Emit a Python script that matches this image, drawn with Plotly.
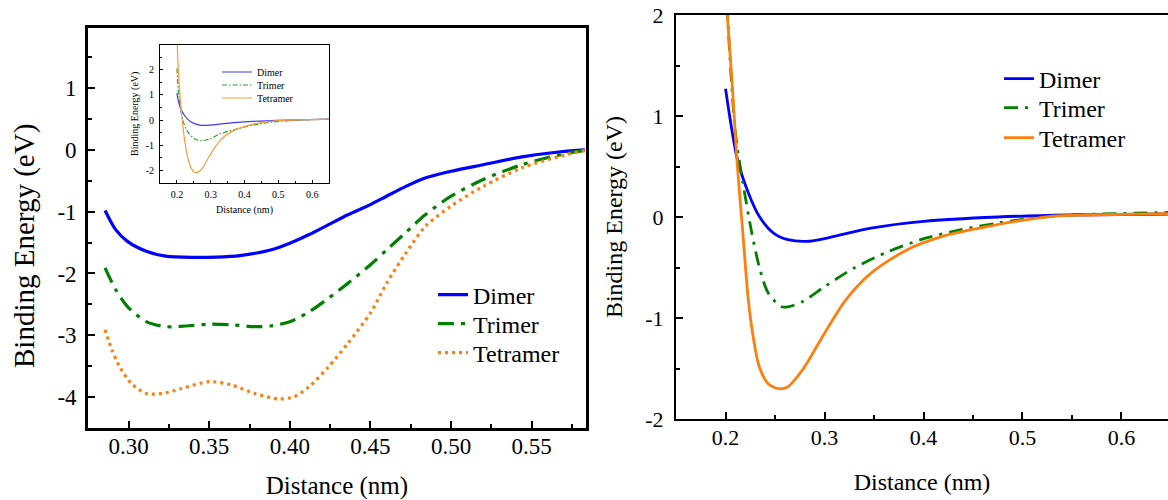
import plotly.graph_objects as go

# ---------------- Left panel (zoomed region) ----------------
left_x_dimer = [0.2854, 0.292, 0.2993, 0.311, 0.323, 0.340, 0.3545, 0.369, 0.388, 0.400, 0.412, 0.424,
                0.436, 0.450, 0.460, 0.472, 0.484, 0.500, 0.520, 0.544, 0.568, 0.583]
left_y_dimer = [-0.98, -1.29, -1.48, -1.64, -1.72, -1.74, -1.735, -1.71, -1.62, -1.51, -1.37, -1.21,
                -1.05, -0.886, -0.75, -0.59, -0.454, -0.346, -0.24, -0.114, -0.03, 0.0]

left_x_trimer = [0.2854, 0.292, 0.2993, 0.311, 0.323, 0.335, 0.350, 0.364, 0.378, 0.388, 0.400, 0.412,
                 0.424, 0.436, 0.450, 0.460, 0.472, 0.484, 0.500, 0.520, 0.544, 0.568, 0.583]
left_y_trimer = [-1.91, -2.26, -2.535, -2.78, -2.86, -2.85, -2.82, -2.83, -2.86, -2.85, -2.78, -2.62,
                 -2.40, -2.16, -1.86, -1.62, -1.335, -1.05, -0.75, -0.48, -0.24, -0.076, -0.01]

left_x_tetramer = [0.2854, 0.2897, 0.2945, 0.3017, 0.311, 0.321, 0.333, 0.350, 0.364, 0.378, 0.393, 0.4025,
                   0.412, 0.424, 0.436, 0.450, 0.460, 0.472, 0.484, 0.500, 0.520, 0.544, 0.568, 0.583]
left_y_tetramer = [-2.91, -3.24, -3.51, -3.78, -3.94, -3.94, -3.86, -3.75, -3.805, -3.94, -4.03, -3.995,
                   -3.83, -3.51, -3.13, -2.64, -2.16, -1.67, -1.24, -0.91, -0.59, -0.29, -0.10, -0.01]

# ---------------- Inset (full range, first data set) ----------------
in_x_dimer = [0.200, 0.208, 0.223, 0.243, 0.2675, 0.297, 0.347, 0.426, 0.526, 0.652]
in_y_dimer = [1.07, 0.57, 0.17, -0.09, -0.20, -0.20, -0.13, -0.05, 0.0, 0.04]

in_x_trimer = [0.200, 0.206, 0.218, 0.233, 0.2526, 0.2725, 0.297, 0.327, 0.377, 0.426, 0.476, 0.526, 0.652]
in_y_trimer = [2.05, 0.90, -0.03, -0.49, -0.75, -0.82, -0.75, -0.55, -0.355, -0.20, -0.09, -0.03, 0.04]

in_x_tetramer = [0.200, 0.206, 0.213, 0.223, 0.233, 0.243, 0.2526, 0.2625, 0.2774, 0.297, 0.327, 0.367,
                 0.426, 0.476, 0.526, 0.652]
in_y_tetramer = [3.30, 1.55, 0.37, -0.82, -1.54, -1.93, -2.08, -2.07, -1.87, -1.41, -0.82, -0.42,
                 -0.16, -0.05, 0.0, 0.04]

# ---------------- Right panel ----------------
r_x_dimer = [0.200, 0.212, 0.223, 0.234, 0.2485, 0.263, 0.285, 0.311, 0.347, 0.400, 0.475, 0.548, 0.650]
r_y_dimer = [1.27, 0.57, 0.24, 0.007, -0.16, -0.225, -0.24, -0.19, -0.11, -0.043, 0.0, 0.02, 0.03]

r_x_trimer = [0.200, 0.202, 0.210, 0.2175, 0.2266, 0.234, 0.243, 0.256, 0.263, 0.278, 0.300, 0.329, 0.365,
              0.402, 0.438, 0.475, 0.511, 0.548, 0.650]
r_y_trimer = [2.40, 2.0, 0.83, 0.34, -0.16, -0.49, -0.75, -0.886, -0.89, -0.836, -0.69, -0.51, -0.34,
              -0.21, -0.125, -0.06, -0.01, 0.02, 0.045]

r_x_tetramer = [0.200, 0.2066, 0.212, 0.2175, 0.223, 0.2285, 0.234, 0.243, 0.254, 0.263, 0.278, 0.300,
                0.3215, 0.347, 0.3836, 0.420, 0.4566, 0.493, 0.530, 0.566, 0.650]
r_y_tetramer = [2.25, 1.33, 0.50, -0.16, -0.82, -1.22, -1.48, -1.65, -1.70, -1.68, -1.51, -1.15,
                -0.82, -0.555, -0.324, -0.19, -0.11, -0.043, 0.007, 0.02, 0.033]

names = ["Dimer", "Trimer", "Tetramer"]

FONT = "Liberation Serif, Times New Roman, serif"
BLUE, GREEN, ORANGE = "#0000ff", "#008000", "#ff7f0e"
IBLUE, IGREEN, IORANGE = "#3a3aff", "#2ea02e", "#ff9a3c"

fig = go.Figure()

# left panel traces (each legend entry in its own legend box so spacing matches)
fig.add_trace(go.Scatter(x=left_x_dimer, y=left_y_dimer, name=names[0], mode="lines",
                         line=dict(color=BLUE, width=3.2, shape="spline", smoothing=0.8),
                         xaxis="x", yaxis="y", legend="legend"))
fig.add_trace(go.Scatter(x=left_x_trimer, y=left_y_trimer, name=names[1], mode="lines",
                         line=dict(color=GREEN, width=3.2, dash="16px,7px,4px,7px", shape="spline", smoothing=0.8),
                         xaxis="x", yaxis="y", legend="legend2"))
fig.add_trace(go.Scatter(x=left_x_tetramer, y=left_y_tetramer, name=names[2], mode="lines",
                         line=dict(color=ORANGE, width=3.2, dash="3px,4px", shape="spline", smoothing=0.8),
                         xaxis="x", yaxis="y", legend="legend3"))

# right panel traces
fig.add_trace(go.Scatter(x=r_x_dimer, y=r_y_dimer, name=names[0], mode="lines",
                         line=dict(color=BLUE, width=2.8, shape="spline", smoothing=0.8),
                         xaxis="x2", yaxis="y2", legend="legend4"))
fig.add_trace(go.Scatter(x=r_x_trimer, y=r_y_trimer, name=names[1], mode="lines",
                         line=dict(color=GREEN, width=2.8, dash="14px,7px,3px,7px", shape="spline", smoothing=0.8),
                         xaxis="x2", yaxis="y2", legend="legend5"))
fig.add_trace(go.Scatter(x=r_x_tetramer, y=r_y_tetramer, name=names[2], mode="lines",
                         line=dict(color=ORANGE, width=2.8, shape="spline", smoothing=0.8),
                         xaxis="x2", yaxis="y2", legend="legend6"))

# inset traces
fig.add_trace(go.Scatter(x=in_x_dimer, y=in_y_dimer, name=names[0], mode="lines",
                         line=dict(color=IBLUE, width=1.2, shape="spline", smoothing=0.8),
                         xaxis="x3", yaxis="y3", legend="legend7"))
fig.add_trace(go.Scatter(x=in_x_trimer, y=in_y_trimer, name=names[1], mode="lines",
                         line=dict(color=IGREEN, width=1.2, dash="5px,2px,1.5px,2px", shape="spline", smoothing=0.8),
                         xaxis="x3", yaxis="y3", legend="legend8"))
fig.add_trace(go.Scatter(x=in_x_tetramer, y=in_y_tetramer, name=names[2], mode="lines",
                         line=dict(color=IORANGE, width=1.2, shape="spline", smoothing=0.8),
                         xaxis="x3", yaxis="y3", legend="legend9"))

axis_common = dict(showgrid=False, zeroline=False, showline=True, linecolor="black",
                   ticks="inside", tickcolor="black", color="black", automargin=False)

tick_font_l = dict(family=FONT, size=23, color="black")
tick_font_r = dict(family=FONT, size=22, color="black")
title_font_r = dict(family=FONT, size=24, color="black")
title_font_l = dict(family=FONT, size=25, color="black")
inset_font = dict(family=FONT, size=10, color="black")


def leg(xpx, ypx, size):
    return dict(x=xpx / 1168, y=1 - ypx / 500, xanchor="left", yanchor="middle",
                bgcolor="rgba(0,0,0,0)", font=dict(family=FONT, size=size, color="black"),
                itemwidth=30, borderwidth=0)


fig.update_layout(
    template="none",
    width=1168, height=500,
    margin=dict(l=0, r=0, t=0, b=0, autoexpand=False),
    paper_bgcolor="white", plot_bgcolor="white",
    font=dict(family=FONT, color="black", size=22),
    showlegend=True,
    xaxis=dict(**axis_common, domain=[0.0753, 0.5017], range=[0.2748, 0.5837], anchor="y",
               linewidth=2.5, mirror=True, tickvals=[0.30, 0.35, 0.40, 0.45, 0.50, 0.55],
               ticktext=["0.30", "0.35", "0.40", "0.45", "0.50", "0.55"], ticklen=7, tickwidth=2,
               minor=dict(ticks="inside", tickvals=[0.325, 0.375, 0.425, 0.475, 0.525, 0.575],
                          ticklen=4, tickwidth=1.5, tickcolor="black"),
               tickfont=tick_font_l, ticklabelstandoff=-4,
               title=dict(text="Distance (nm)", font=title_font_l, standoff=21)),
    yaxis=dict(**axis_common, domain=[0.144, 0.945], range=[-4.5, 1.98], anchor="x",
               linewidth=2.5, mirror=True, tickvals=[1, 0, -1, -2, -3, -4],
               ticktext=["1", "0", "-1", "-2", "-3", "-4"], ticklen=7, tickwidth=2,
               minor=dict(ticks="inside", tickvals=[1.5, 0.5, -0.5, -1.5, -2.5, -3.5, -4.5],
                          ticklen=4, tickwidth=1.5, tickcolor="black"),
               tickfont=tick_font_l, ticklabelstandoff=4),
    xaxis2=dict(**axis_common, domain=[0.5788, 1.0], range=[0.15, 0.647], anchor="y2",
                linewidth=2.2, mirror=True, tickvals=[0.2, 0.3, 0.4, 0.5, 0.6],
                ticktext=["0.2", "0.3", "0.4", "0.5", "0.6"], ticklen=7, tickwidth=2,
                minor=dict(ticks="inside", tickvals=[0.25, 0.35, 0.45, 0.55],
                           ticklen=4, tickwidth=1.5, tickcolor="black"),
                tickfont=tick_font_r, ticklabelstandoff=-3,
                title=dict(text="Distance (nm)", font=title_font_r, standoff=25)),
    yaxis2=dict(**axis_common, domain=[0.162, 0.97], range=[-2, 2], anchor="x2",
                linewidth=2.2, mirror=False, tickvals=[2, 1, 0, -1, -2],
                ticktext=["2", "1", "0", "-1", "-2"], ticklen=7, tickwidth=2,
                minor=dict(ticks="inside", tickvals=[1.5, 0.5, -0.5, -1.5],
                           ticklen=4, tickwidth=1.5, tickcolor="black"),
                tickfont=tick_font_r, ticklabelstandoff=6,
                title=dict(text="Binding Energy (eV)", font=title_font_r, standoff=16)),
    xaxis3=dict(**axis_common, domain=[0.1370, 0.2817], range=[0.15, 0.65], anchor="y3",
                linewidth=1, mirror=True, tickvals=[0.2, 0.3, 0.4, 0.5, 0.6],
                ticktext=["0.2", "0.3", "0.4", "0.5", "0.6"], ticklen=3, tickwidth=1,
                minor=dict(ticks="inside", tickvals=[0.25, 0.35, 0.45, 0.55],
                           ticklen=2, tickwidth=1, tickcolor="black"),
                tickfont=inset_font, ticklabelstandoff=2,
                title=dict(text="Distance (nm)", font=inset_font, standoff=6)),
    yaxis3=dict(**axis_common, domain=[0.634, 0.911], range=[-2.5, 3], anchor="x3",
                linewidth=1, mirror=True, tickvals=[2, 1, 0, -1, -2],
                ticktext=["2", "1", "0", "-1", "-2"], ticklen=3, tickwidth=1,
                minor=dict(ticks="inside", tickvals=[2.5, 1.5, 0.5, -0.5, -1.5],
                           ticklen=2, tickwidth=1, tickcolor="black"),
                tickfont=inset_font, ticklabelstandoff=3,
                title=dict(text="Binding Energy (eV)", font=inset_font, standoff=5)),
    legend=leg(433, 295, 24), legend2=leg(433, 324, 24), legend3=leg(433, 353, 24),
    legend4=leg(999, 79, 24), legend5=leg(999, 108, 24), legend6=leg(999, 138, 24),
    legend7=leg(217, 72, 10), legend8=leg(217, 85, 10), legend9=leg(217, 98, 10),
    annotations=[dict(text="Binding Energy (eV)", textangle=-90, xref="paper", yref="paper",
                      x=24 / 1168, y=1 - 246 / 500, xanchor="center", yanchor="middle",
                      showarrow=False, font=dict(family=FONT, size=29, color="black"))],
)

post = (
    "document.body.style.margin='0';"
    "var st=document.createElement('style');"
    "st.textContent='.js-plotly-plot svg text{font-family:\"Liberation Serif\",\"Times New Roman\",Tinos,serif !important;}';"
    "document.head.appendChild(st);"
)

fig.write_html("out.html", post_script=post, config={"displayModeBar": False})
